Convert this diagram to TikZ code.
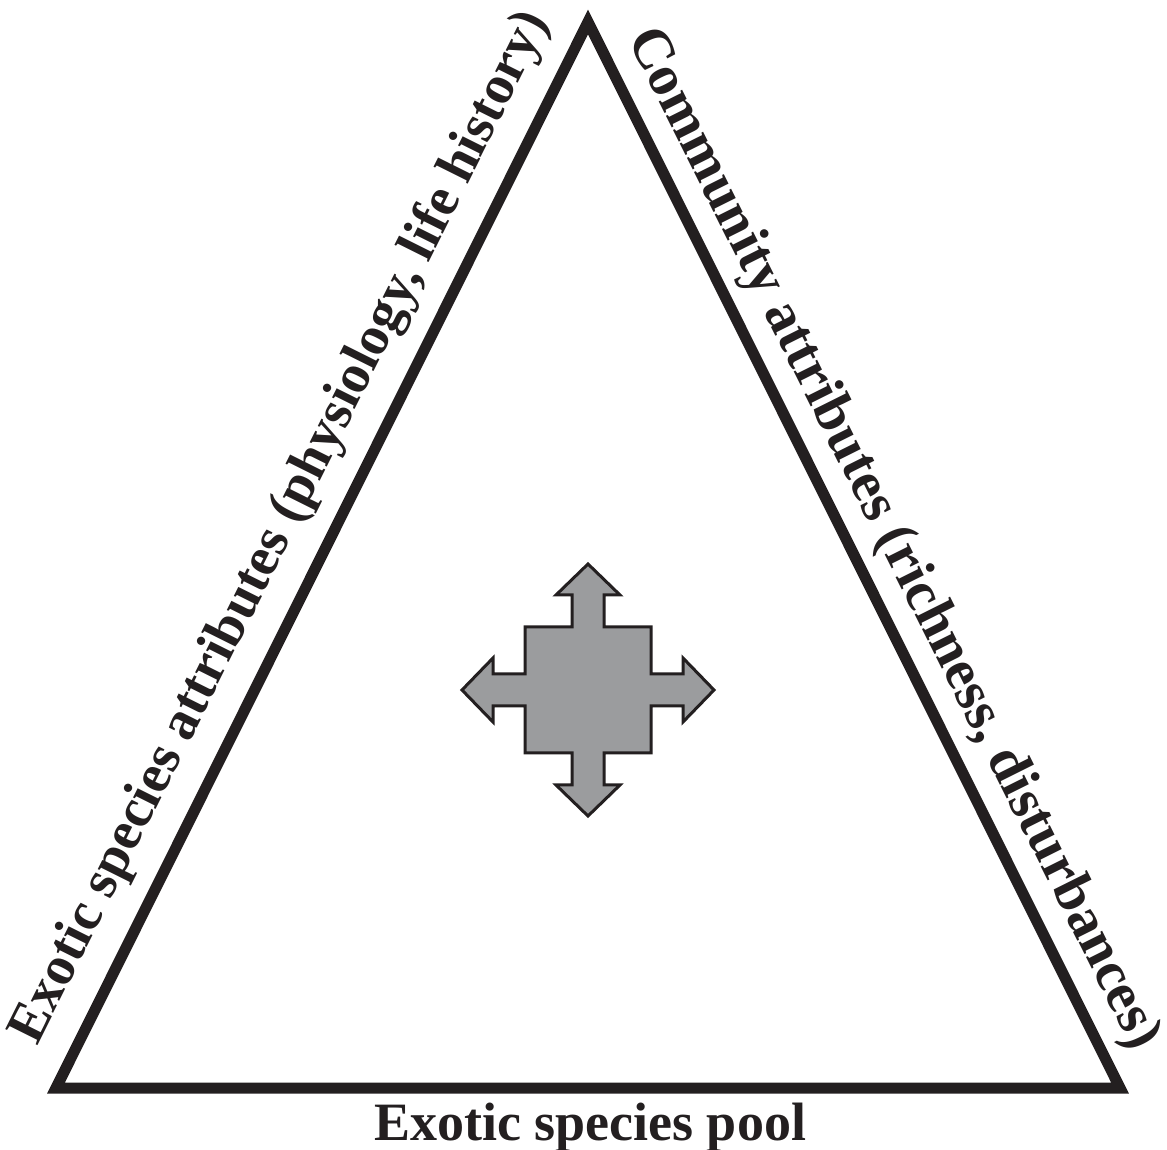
\documentclass[tikz,border=0pt]{standalone}
\usepackage{fontspec}
\setmainfont{Liberation Serif}
\usetikzlibrary{calc}
\definecolor{crossgray}{RGB}{155,156,158}
\definecolor{ink}{RGB}{35,31,32}
\begin{document}
\begin{tikzpicture}[x=1pt,y=1pt,
  edge/.style={line width=11pt, line join=miter, draw=ink},
  lbl/.style={font=\fontsize{54}{60}\selectfont\bfseries, text=ink, inner sep=0pt, anchor=base},
  crossshape/.style={fill=crossgray, draw=ink, line width=3pt, line join=miter}]
\useasboundingbox (0,0) rectangle (1167,1149);
\coordinate (BL) at (56,61);
\coordinate (BR) at (1120,61);
\coordinate (AP) at (588,1127);
\draw[edge] (BL) -- (AP) -- (BR) -- cycle;
% labels
\coordinate (ML) at ($(BL)!0.5!(AP)!6pt!(AP)$);
\coordinate (MR) at ($(AP)!0.5!(BR)!3pt!(BR)$);
\node[lbl, font=\fontsize{55}{60}\selectfont\bfseries, rotate=63.48] (left) at ($(ML)!35pt!90:(AP)$) {Exotic species attributes (physiology, life history)};
\node[lbl, font=\fontsize{57}{60}\selectfont\bfseries, rotate=-63.48] (right) at ($(MR)!28pt!90:(BR)$) {Community attributes (richness, disturbances)};
\node[lbl] (bottom) at (590,9) {Exotic species pool};
% cross
\coordinate (C) at (588,459);
\def\s{16}\def\q{63}\def\b{95}\def\h{32}\def\t{126}
\draw[crossshape, shift={(C)}]
 (0,\t) -- (\h,\b) -- (\s,\b) -- (\s,\q) -- (\q,\q) -- (\q,\s) -- (\b,\s) -- (\b,\h) -- (\t,0)
 -- (\b,-\h) -- (\b,-\s) -- (\q,-\s) -- (\q,-\q) -- (\s,-\q) -- (\s,-\b) -- (\h,-\b) -- (0,-\t)
 -- (-\h,-\b) -- (-\s,-\b) -- (-\s,-\q) -- (-\q,-\q) -- (-\q,-\s) -- (-\b,-\s) -- (-\b,-\h) -- (-\t,0)
 -- (-\b,\h) -- (-\b,\s) -- (-\q,\s) -- (-\q,\q) -- (-\s,\q) -- (-\s,\b) -- (-\h,\b) -- cycle;
\end{tikzpicture}
\end{document}
